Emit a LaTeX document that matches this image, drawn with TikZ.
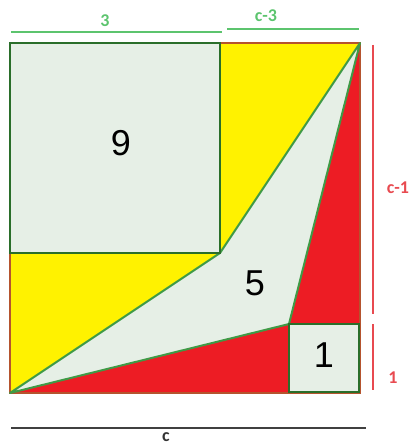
\documentclass[tikz,border=0pt]{standalone}
\usepackage{fontspec}
\setmainfont{Liberation Sans}
\newfontfamily\lblfont{Carlito}[UprightFont={* Bold}]
\definecolor{yel}{HTML}{FFF200}
\definecolor{rd}{HTML}{ED1C24}
\definecolor{pale}{HTML}{E6EFE6}
\definecolor{dkgreen}{HTML}{2A6E2A}
\definecolor{edgegreen}{HTML}{3F9A46}
\definecolor{lblgreen}{HTML}{5CC46E}
\definecolor{lblred}{HTML}{E84A50}
\definecolor{frame}{HTML}{B5542E}
\tikzset{
  sq/.style={draw=dkgreen, line width=2.8pt, fill=pale},
  big/.style={font=\fontsize{36}{36}\selectfont, inner sep=0pt},
  lbl/.style={font=\lblfont\fontsize{18}{18}\selectfont, inner sep=0pt},
  dimline/.style={line width=1.4pt}
}
\begin{document}
\begin{tikzpicture}[x=1pt,y=-1pt]
\useasboundingbox (0,0) rectangle (410,446);
% corners
\coordinate (A) at (10,393);
\coordinate (B) at (360,393);
\coordinate (C) at (360,43);
\coordinate (D) at (10,43);
\coordinate (M) at (220,253);
\coordinate (P) at (289,324);
% background regions
\fill[yel] (A) rectangle (C);
\fill[rd] (A) -- (B) -- (C) -- (P) -- cycle;
\draw[frame, line width=1.6pt] (A) rectangle (C);
% central polygon
\draw[edgegreen, line width=2pt, fill=pale, line join=round] (A) -- (M) -- (C) -- (P) -- cycle;
% squares
\draw[sq] (10,43) rectangle (220,253);
\draw[sq] (289,324) rectangle (359,392);
\node[big] (n9) at (121,143) {9};
\node[big] (n5) at (255,283) {5};
\node[big] (n1) at (324,355) {1};
% dimension lines
\coordinate (t1a) at (11,32); \coordinate (t1b) at (222,32);
\coordinate (t2a) at (227,29); \coordinate (t2b) at (359,29);
\draw[dimline, lblgreen] (t1a) -- (t1b);
\draw[dimline, lblgreen] (t2a) -- (t2b);
\node[lbl, text=lblgreen] (l3) at (105,21) {3};
\node[lbl, text=lblgreen] (lc3) at (266,16) {c-3};
\coordinate (r1a) at (373,45); \coordinate (r1b) at (373,314);
\coordinate (r2a) at (373,324); \coordinate (r2b) at (373,390);
\draw[dimline, lblred] (r1a) -- (r1b);
\draw[dimline, lblred] (r2a) -- (r2b);
\node[lbl, text=lblred] (lc1) at (398,188) {c-1};
\node[lbl, text=lblred] (l1) at (393,378) {1};
\coordinate (ba) at (11,428); \coordinate (bb) at (366,428);
\draw[line width=1.2pt, black!75] (ba) -- (bb);
\node[lbl, text=black!80, anchor=base] (lc) at (166,441) {c};
\end{tikzpicture}
\end{document}
